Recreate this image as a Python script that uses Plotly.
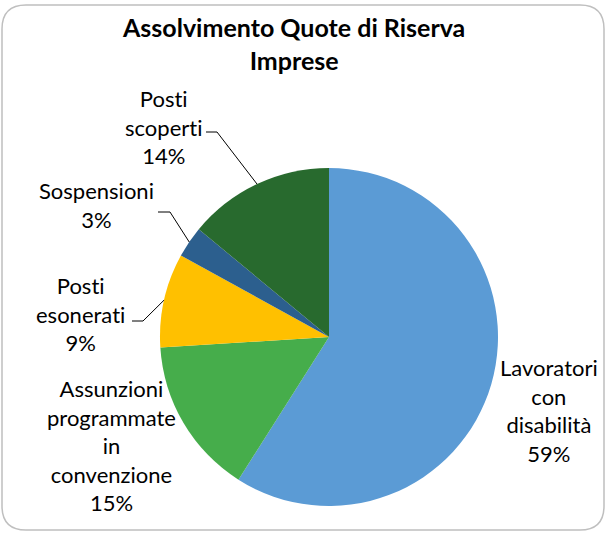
import math
import plotly.graph_objects as go

ZW = "\u200c"  # zero-width non-joiner keeps "ti" from forming a ligature

# Data
labels = ["Lavoratori con disabilità", "Assunzioni programmate in convenzione",
          "Posti esonerati", "Sospensioni", "Posti scoperti"]
values = [59, 15, 9, 3, 14]
colors = ["#5B9BD5", "#46AD4B", "#FFC000", "#2C5F8E", "#286A2E"]
label_lines = ["Lavoratori<br>con<br>disabilità",
               "Assunzioni<br>programmate<br>in<br>convenzione",
               f"Post{ZW}i<br>esonerat{ZW}i",
               "Sospensioni",
               f"Post{ZW}i<br>scopert{ZW}i"]

W, H = 607, 534
CX, CY, R = 329, 337, 169          # pie centre / radius in pixels
FONT = "Lato"


def px(x):
    return x / W


def py(y):
    return 1 - y / H


# label block centres (pixels) and leader-line elbows (None = no leader)
label_pos = [(549, 410), (111, 445), (80, 314), (97, 205), (163, 127)]
leaders = [None, None, ((132, 321), (143, 321)), ((158, 212), (170, 212)),
           ((206, 132), (217, 132))]

total = sum(values)

fig = go.Figure(go.Pie(
    labels=labels, values=values, sort=False, direction="clockwise", rotation=0,
    marker=dict(colors=colors, line=dict(width=0)),
    textinfo="none", showlegend=False,
    domain=dict(x=[px(CX - R), px(CX + R)], y=[py(CY + R), py(CY - R)]),
))

annotations = []
shapes = []
cum = 0
for i, v in enumerate(values):
    pct = round(v / total * 100)
    lx, ly = label_pos[i]
    annotations.append(dict(
        x=px(lx), y=py(ly), xref="paper", yref="paper",
        text=f"{label_lines[i]}<br>{pct}%", showarrow=False,
        font=dict(family=FONT, size=22, color="#000000"), align="center",
        xanchor="center", yanchor="middle"))
    mid = (cum + v / 2) / total * 2 * math.pi
    cum += v
    if leaders[i] is not None:
        (x0, y0), (x1, y1) = leaders[i]
        ex = CX + R * math.sin(mid)
        ey = CY - R * math.cos(mid)
        shapes.append(dict(
            type="path", xref="paper", yref="paper",
            path=f"M {px(x0)} {py(y0)} L {px(x1)} {py(y1)} L {px(ex)} {py(ey)}",
            line=dict(color="#000000", width=1)))

# rounded chart border
bx0, by0, bx1, by1, rr = 2, 5, 604, 530, 24
border = (f"M {px(bx0 + rr)} {py(by0)} L {px(bx1 - rr)} {py(by0)} "
          f"Q {px(bx1)} {py(by0)} {px(bx1)} {py(by0 + rr)} "
          f"L {px(bx1)} {py(by1 - rr)} Q {px(bx1)} {py(by1)} {px(bx1 - rr)} {py(by1)} "
          f"L {px(bx0 + rr)} {py(by1)} Q {px(bx0)} {py(by1)} {px(bx0)} {py(by1 - rr)} "
          f"L {px(bx0)} {py(by0 + rr)} Q {px(bx0)} {py(by0)} {px(bx0 + rr)} {py(by0)} Z")
shapes.append(dict(type="path", xref="paper", yref="paper", path=border,
                   line=dict(color="#BFBFBF", width=1.5), layer="below"))

annotations.append(dict(
    x=px(293), y=py(44), xref="paper", yref="paper",
    text="<b>Assolvimento Quote di Riserva<br>Imprese</b>", showarrow=False,
    font=dict(family=FONT, size=25, color="#000000"), align="center",
    xanchor="center", yanchor="middle"))

fig.update_layout(
    width=W, height=H, margin=dict(l=0, r=0, t=0, b=0),
    paper_bgcolor="white", plot_bgcolor="white",
    annotations=annotations, shapes=shapes,
)

fig.write_html("out.html")
